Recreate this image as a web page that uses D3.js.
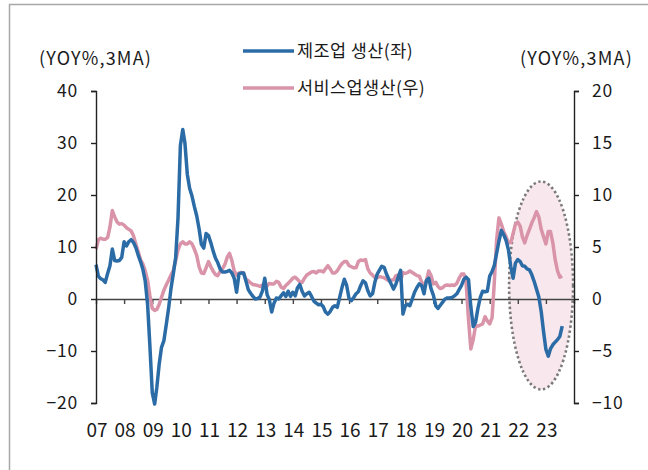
<!DOCTYPE html>
<html>
<head>
<meta charset="utf-8">
<script src="https://cdn.jsdelivr.net/npm/d3@7"></script>
<style>
  body { margin: 0; background: #fff; }
  svg { display: block; font-family: "Noto Sans CJK KR", "Noto Sans", sans-serif; }
</style>
</head>
<body>
<svg id="chart"></svg>
<script>
// 제조업 vs 서비스업 생산 (YoY%, 3MA), monthly from 2007-01
const startYear = 2007;
const yearLabels = ["07", "08", "09", "10", "11", "12", "13", "14", "15", "16", "17", "18", "19", "20", "21", "22", "23"];
const leftTicks = [40, 30, 20, 10, 0, -10, -20];
const rightTicks = [20, 15, 10, 5, 0, -5, -10];
const seriesNames = ["제조업 생산(좌)", "서비스업생산(우)"];

const manufacturing = [
    6.6, 4.4, 3.9, 3.7, 3.2, 4.9, 6.4, 9.6, 7.4, 7.3, 7.4, 8.0,
    11.0, 10.2, 11.0, 11.4, 10.9, 9.9, 8.5, 7.2, 5.7, 3.5, -1.0, -9.0,
    -18.0, -20.2, -17.0, -12.5, -9.3, -8.0, -5.0, -1.8, 2.0, 4.8, 8.0, 15.5,
    29.5, 32.6, 30.0, 24.0, 21.3, 19.8, 17.8, 16.0, 13.5, 10.5, 9.8, 12.6,
    12.2, 10.8, 9.3, 7.9, 7.0, 5.8, 5.2, 5.2, 5.3, 5.5, 5.0, 4.0,
    1.3, 4.8, 5.0, 5.0, 3.5, 1.8, 1.1, 0.5, 0.0, 0.1, 0.4, 1.5,
    4.0, 0.8, -0.1, -2.5, -0.8, 0.2, 0.0, 0.6, 1.2, 0.5, 1.5, 0.5,
    1.3, 0.6, 2.1, 2.8, 1.5, 0.6, 1.0, 1.3, 0.5, -0.4, -0.8, -1.1,
    -1.0, -1.5, -2.5, -2.9, -2.4, -1.6, -1.3, -1.6, 0.3, 2.2, 3.8, 2.6,
    0.1, -0.3, 0.3, 1.0, 1.4, 2.6, 3.5, 3.1, 1.6, 0.6, 1.0, 3.2,
    4.8, 5.6, 6.3, 6.1, 4.8, 3.8, 2.9, 1.9, 2.9, 4.2, 5.5, -2.9,
    -1.3, -1.0, -1.3, 0.0, 1.3, 2.2, 2.9, 2.6, 1.0, 3.5, 4.0, 2.0,
    0.7, -1.3, -1.8, -1.2, -0.6, 0.0, 0.2, 0.2, 0.3, 0.6, 1.0, 1.8,
    2.6, 3.8, 4.2, 3.7, -1.5, -5.3, -4.5, -1.8, 0.3, 1.5, 1.4, 1.5,
    4.4, 5.3, 6.4, 8.8, 11.1, 13.2, 12.4, 11.3, 9.5, 6.3, 4.0, 6.9,
    7.6, 7.2, 6.4, 6.3, 5.8, 5.6, 4.7, 3.4, 1.9, 0.4, -2.4, -6.2,
    -9.7, -11.0, -9.6, -8.8, -8.3, -7.8, -7.2, -5.2
];

const services = [
    4.8, 5.7, 5.85, 5.75, 5.75, 5.9, 6.9, 8.5, 7.9, 7.4, 7.2, 7.25,
    7.1, 6.85, 6.7, 6.55, 6.1, 5.3, 4.6, 3.8, 3.35, 2.7, 1.8, 0.3,
    -0.9, -1.1, -1.0, -0.5, 0.15, 0.85, 1.35, 1.8, 2.3, 2.75, 3.7, 4.7,
    5.3, 5.5, 5.3, 5.3, 5.5, 5.3, 4.8, 4.2, 3.1, 2.5, 2.45, 3.0,
    3.6, 3.1, 2.7, 2.35, 2.25, 2.65, 2.9, 3.3, 4.0, 4.4, 3.7, 2.7,
    2.3, 2.5, 2.55, 2.5, 1.9, 1.75, 1.55, 1.4, 1.35, 1.3, 1.2, 1.35,
    1.3, 1.25, 1.5, 1.45, 1.45, 1.7, 1.6, 1.15, 1.0, 1.3, 1.5, 1.75,
    2.0, 2.1, 1.9, 1.65, 1.6, 2.0, 2.3, 2.45, 2.6, 2.65, 2.5, 2.7,
    2.7, 2.6, 2.9, 3.2, 2.9, 2.5, 2.5, 2.7, 3.1, 3.4, 3.6, 3.6,
    3.2, 3.1, 3.0, 3.0, 3.6, 3.75, 3.7, 3.8, 2.9, 2.5, 2.3, 2.05,
    2.05, 2.15, 2.1, 2.05, 1.9, 1.75, 1.8, 1.85, 2.25, 2.3, 1.75, 2.55,
    2.45, 2.55, 2.7, 2.55, 2.4, 2.25, 2.2, 1.65, 1.2, 1.75, 2.7, 2.25,
    1.45, 1.6, 1.2, 1.0, 1.1, 1.3, 1.35, 1.3, 1.35, 1.3, 1.5, 2.0,
    2.4, 2.4, 1.5, -2.0, -4.8, -3.9, -2.6, -2.6, -2.5, -2.4, -1.7, -2.1,
    -2.4, -1.8, 1.5, 5.7, 7.8, 7.2, 6.5, 6.0, 5.4, 5.4, 6.3, 7.2,
    7.4, 7.0, 6.0, 5.4, 6.1, 6.7, 7.3, 7.8, 8.4, 7.9, 6.7, 6.0,
    5.3, 6.5, 6.5, 5.4, 3.8, 2.7, 2.1, 2.2
];

// highlighted region (dotted ellipse) in data units
const highlight = { from: new Date(2021, 8, 10), to: new Date(2023, 11, 20), top: 22.6, bottom: -17.4 };

const blue = "#2c6ca6";
const pink = "#d994a9";
const axisColor = "#222";

function drawChart() {
    const width = 648, height = 470;
    const margin = { top: 91, right: 74, bottom: 67, left: 96 };

    const svg = d3.select("#chart").attr("width", width).attr("height", height);

    // outer frame (left + top edges visible)
    svg.append("path")
        .attr("d", "M9.5," + height + " L9.5,4.5 L" + width + ",4.5")
        .attr("fill", "none")
        .attr("stroke", "#a8a8a8")
        .attr("stroke-width", 1.5);

    const x = d3.scaleTime()
        .domain([new Date(startYear, 0, 1), new Date(startYear + yearLabels.length, 0, 1)])
        .range([margin.left, width - margin.right]);
    const yL = d3.scaleLinear().domain([-20, 40]).range([height - margin.bottom, margin.top]);
    const yR = d3.scaleLinear().domain([-10, 20]).range([height - margin.bottom, margin.top]);

    const dateAt = function (i) { return new Date(startYear, i, 1); };

    // highlight ellipse
    const ex0 = x(highlight.from), ex1 = x(highlight.to);
    const ey0 = yL(highlight.top), ey1 = yL(highlight.bottom);
    svg.append("ellipse")
        .attr("cx", (ex0 + ex1) / 2)
        .attr("cy", (ey0 + ey1) / 2)
        .attr("rx", (ex1 - ex0) / 2)
        .attr("ry", (ey1 - ey0) / 2)
        .attr("fill", "#f8e7ed")
        .attr("stroke", "#7a7a7a")
        .attr("stroke-width", 2.6)
        .attr("stroke-dasharray", "2.4 2.6");

    // zero line with year ticks
    const yearDates = yearLabels.map(function (_, i) { return new Date(startYear + i, 0, 1); });
    const xAxis = d3.axisBottom(x)
        .tickValues(yearDates.slice(1))
        .tickSize(5)
        .tickFormat("");
    svg.append("g")
        .attr("transform", "translate(0," + yL(0) + ")")
        .call(xAxis)
        .call(function (g) { g.select(".domain").attr("stroke", "#444").attr("stroke-width", 1.4); })
        .call(function (g) { g.selectAll("line").attr("stroke", "#444").attr("stroke-width", 1.4); });

    // year labels along the bottom
    svg.append("g")
        .selectAll("text")
        .data(yearLabels)
        .enter()
        .append("text")
        .attr("x", function (d, i) { return x(yearDates[i]) + 1; })
        .attr("y", 437)
        .attr("text-anchor", "middle")
        .attr("font-size", "19px")
        .attr("fill", "#1a1a1a")
        .text(function (d) { return d; });

    const line = function (yScale) {
        return d3.line()
            .x(function (d, i) { return x(dateAt(i)); })
            .y(function (d) { return yScale(d); });
    };

    svg.append("path")
        .datum(services)
        .attr("d", line(yR))
        .attr("fill", "none")
        .attr("stroke", pink)
        .attr("stroke-width", 3.5)
        .attr("stroke-linejoin", "round");

    svg.append("path")
        .datum(manufacturing)
        .attr("d", line(yL))
        .attr("fill", "none")
        .attr("stroke", blue)
        .attr("stroke-width", 3.5)
        .attr("stroke-linejoin", "round");

    const fmt = function (d) { return d < 0 ? "\u2212" + Math.abs(d) : String(d); };

    const styleAxis = function (g) {
        g.select(".domain").attr("stroke", axisColor).attr("stroke-width", 1.4);
        g.selectAll("line").attr("stroke", axisColor).attr("stroke-width", 1.4);
        g.selectAll("text").attr("font-size", "17.5px").attr("fill", "#1a1a1a")
            .attr("letter-spacing", "0.8px")
            .attr("font-family", "'Noto Sans CJK KR', sans-serif");
    };

    const leftAxis = d3.axisLeft(yL).tickValues(leftTicks).tickSize(5).tickPadding(13).tickFormat(fmt);
    svg.append("g")
        .attr("transform", "translate(" + margin.left + ",0)")
        .call(leftAxis)
        .call(styleAxis);

    const rightAxis = d3.axisRight(yR).tickValues(rightTicks).tickSize(5).tickPadding(13).tickFormat(fmt);
    svg.append("g")
        .attr("transform", "translate(" + (width - margin.right) + ",0)")
        .call(rightAxis)
        .call(styleAxis);

    // unit labels
    svg.append("text")
        .attr("x", 39).attr("y", 65)
        .attr("font-size", "18px").attr("letter-spacing", "1.2px").attr("fill", "#1a1a1a")
        .text("(YOY%,3MA)");
    svg.append("text")
        .attr("x", 633).attr("y", 65)
        .attr("text-anchor", "end")
        .attr("font-size", "18px").attr("letter-spacing", "1.2px").attr("fill", "#1a1a1a")
        .text("(YOY%,3MA)");

    // legend
    const legend = svg.append("g").attr("class", "legend");
    [blue, pink].forEach(function (c, i) {
        const ly = 51 + i * 37;
        legend.append("line")
            .attr("x1", 243).attr("x2", 294)
            .attr("y1", ly).attr("y2", ly)
            .attr("stroke", c)
            .attr("stroke-width", 3.6);
        legend.append("text")
            .attr("x", 297).attr("y", ly + 6)
            .attr("font-size", "17.5px").attr("letter-spacing", "0.4px").attr("fill", "#1a1a1a")
            .text(seriesNames[i]);
    });
}

drawChart();
</script>
</body>
</html>
